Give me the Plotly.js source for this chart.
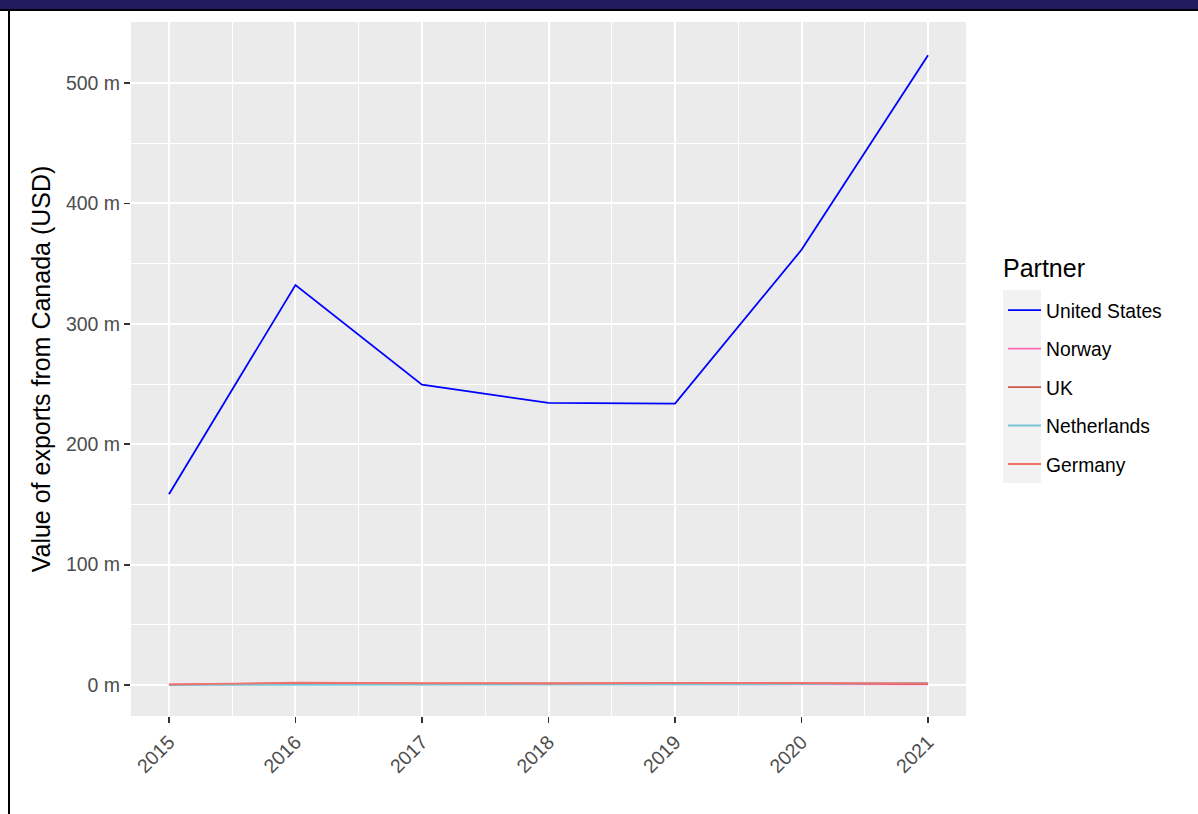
<!DOCTYPE html>
<html>
<head>
<meta charset="utf-8">
<script src="https://cdn.plot.ly/plotly-3.0.1.min.js"></script>
<style>
  html, body { margin:0; padding:0; background:#ffffff; }
  #wrap { position:relative; width:1198px; height:814px; overflow:hidden; }
  #chart { position:absolute; left:0; top:0; width:1198px; height:814px; }
  #topbar { position:absolute; left:0; top:0; width:1198px; height:9px; background:#211A5E; }
  #topline { position:absolute; left:0; top:9px; width:1198px; height:2px; background:#000; }
  #leftline { position:absolute; left:8px; top:9px; width:2px; height:805px; background:#000; }
</style>
</head>
<body>
<div id="wrap">
  <div id="chart"></div>
  <div id="topbar"></div>
  <div id="topline"></div>
  <div id="leftline"></div>
</div>
<script>
// ---- data (values in millions USD) ----
const years = [2015, 2016, 2017, 2018, 2019, 2020, 2021];
const partners = ["United States", "Norway", "UK", "Netherlands", "Germany"];
const unitedStates = [158.5, 332.2, 249.5, 234.3, 233.8, 361.5, 523.0];
const norway      = [0.3, 1.0, 0.8, 0.6, 0.7, 0.6, 0.5];
const uk          = [0.1, 1.6, 1.2, 1.2, 1.5, 1.6, 0.9];
const netherlands = [0.1, 0.3, 0.3, 0.4, 0.4, 0.7, 1.8];
const germany     = [0.5, 1.9, 1.5, 1.3, 1.8, 1.9, 1.4];
const seriesValues = [unitedStates, norway, uk, netherlands, germany];
const seriesColors = ["#0000FF", "#FF69B4", "#D0584A", "#74C6D6", "#F2716C"];
const legendTitle = "Partner";
const yTitle = "Value of exports from Canada (USD)";

const traces = partners.map((name, i) => ({
  type: "scatter",
  mode: "lines",
  name: name,
  x: years,
  y: seriesValues[i],
  line: { color: seriesColors[i], width: 1.8 },
  legendgroup: "g" + i,
  hoverinfo: "skip"
}));

const L = 131, R = 966, T = 22, B = 716, W = 1198, H = 814;
const pw = R - L, ph = B - T;
const px = v => (v - L) / pw;
const py = v => (B - v) / ph;

const layout = {
  width: W, height: H,
  margin: { l: L, r: W - R, t: T, b: H - B, pad: 0 },
  paper_bgcolor: "#FFFFFF",
  plot_bgcolor: "#EBEBEB",
  font: { family: "Liberation Sans, Arial, sans-serif", color: "#4D4D4D", size: 19 },
  showlegend: true,
  xaxis: {
    range: [2014.7, 2021.3],
    tickmode: "linear", tick0: 2015, dtick: 1,
    tickangle: -45,
    tickfont: { size: 19.5, color: "#4D4D4D" },
    ticks: "outside", ticklen: 6, tickwidth: 1.8, tickcolor: "#333333",
    showgrid: true, gridcolor: "#FFFFFF", gridwidth: 2,
    minor: { tick0: 2015.5, dtick: 1, showgrid: true, gridcolor: "#FFFFFF", gridwidth: 1, ticks: "" },
    zeroline: false, showline: false, fixedrange: true
  },
  yaxis: {
    range: [-25.7, 550.7],
    tickmode: "linear", tick0: 0, dtick: 100,
    ticksuffix: " m",
    tickfont: { size: 19.5, color: "#4D4D4D" },
    ticks: "outside", ticklen: 6, tickwidth: 1.8, tickcolor: "#333333",
    showgrid: true, gridcolor: "#FFFFFF", gridwidth: 2,
    minor: { tick0: 50, dtick: 100, showgrid: true, gridcolor: "#FFFFFF", gridwidth: 1, ticks: "" },
    zeroline: false, showline: false, fixedrange: true,
    title: { text: yTitle, font: { size: 25, color: "#000000" }, standoff: 8 }
  },
  legend: {
    x: px(1003), xanchor: "left",
    y: py(291), yanchor: "top",
    bgcolor: "rgba(0,0,0,0)",
    borderwidth: 0,
    itemwidth: 33,
    font: { size: 19.3, color: "#000000" },
    tracegroupgap: 10.4,
    itemclick: false, itemdoubleclick: false
  },
  annotations: [{
    text: legendTitle, xref: "paper", yref: "paper",
    x: px(1001), xanchor: "left", y: py(284), yanchor: "bottom",
    showarrow: false, font: { size: 25, color: "#000000" }
  }],
  shapes: [{
    type: "rect", xref: "paper", yref: "paper",
    x0: px(1003), x1: px(1041), y0: py(290), y1: py(483),
    fillcolor: "#F2F2F2", line: { width: 0 }, layer: "below"
  }]
};

Plotly.newPlot("chart", traces, layout, { displayModeBar: false, staticPlot: true });
</script>
</body>
</html>
